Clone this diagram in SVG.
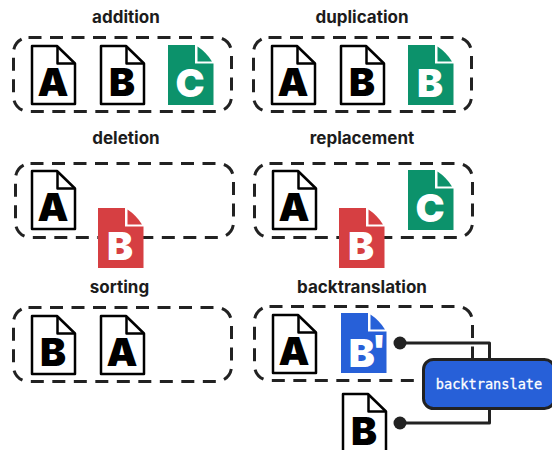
<svg xmlns="http://www.w3.org/2000/svg" width="552" height="450" viewBox="0 0 552 450">
<style>
.t{font:700 17px Inter,"Open Sans",sans-serif;fill:#1c1c1c;text-anchor:middle}
.l{font:900 39px Inter,"Liberation Sans",sans-serif;text-anchor:middle}
.k{fill:#000}.w{fill:#fff}
.box{fill:none;stroke:#222;stroke-width:3;stroke-dasharray:13 8.500}
.c{fill:none;stroke:#222;stroke-width:3;stroke-linejoin:round}
</style>
<defs>
<g id="doc"><path d="M1 1H26L44 18.500V59H1Z" fill="#fff" stroke="#000" stroke-width="2.500" stroke-linejoin="round"/><path d="M26.500 1V18.500H44" fill="none" stroke="#000" stroke-width="2.500" stroke-linejoin="round"/></g>
<g id="fdoc"><path d="M0 0H27V18.500H45.500V60H0Z"/><path d="M29.500 1.500Q38 7 44 16.500H29.500Z"/></g>
</defs>
<g id="titles">
<text class="t" x="126" y="23">addition</text>
<text class="t" x="362" y="23">duplication</text>
<text class="t" x="126" y="144">deletion</text>
<text class="t" x="362" y="144">replacement</text>
<text class="t" x="119.500" y="293">sorting</text>
<text class="t" x="362" y="293">backtranslation</text>
</g>
<g id="addition"><rect class="box" x="13.500" y="37.500" width="218" height="74" rx="15"/>
<use href="#doc" x="31" y="45"/><text class="l" x="53" y="96">A</text>
<use href="#doc" x="100" y="45"/><text class="l" x="122" y="96">B</text>
<use href="#fdoc" x="168" y="45" fill="#0c926b"/><text class="l w" x="190" y="97">C</text></g>
<g id="duplication"><rect class="box" x="253.500" y="37.500" width="218" height="74" rx="15"/>
<use href="#doc" x="271" y="45"/><text class="l" x="293" y="96">A</text>
<use href="#doc" x="340" y="45"/><text class="l" x="362" y="96">B</text>
<use href="#fdoc" x="408" y="45" fill="#0c926b"/><text class="l w" x="430" y="97">B</text></g>
<g id="deletion"><rect class="box" x="15.500" y="163.500" width="218" height="74" rx="15"/>
<use href="#doc" x="31" y="170"/><text class="l" x="53" y="221">A</text>
<use href="#fdoc" x="98" y="208" fill="#d63f42"/><text class="l w" x="120" y="260">B</text></g>
<g id="replacement"><rect class="box" x="254.500" y="163.500" width="218" height="74" rx="15"/>
<use href="#doc" x="272" y="170"/><text class="l" x="294" y="221">A</text>
<use href="#fdoc" x="339" y="208" fill="#d63f42"/><text class="l w" x="361" y="260">B</text>
<use href="#fdoc" x="408" y="170" fill="#0c926b"/><text class="l w" x="430" y="222">C</text></g>
<g id="sorting"><rect class="box" x="13.500" y="307.500" width="218" height="74" rx="15"/>
<use href="#doc" x="31" y="315"/><text class="l" x="53" y="366">B</text>
<use href="#doc" x="100" y="315"/><text class="l" x="122" y="366">A</text></g>
<g id="backtranslation"><rect class="box" x="254.500" y="306.500" width="218" height="74" rx="15"/>
<use href="#doc" x="272" y="314"/><text class="l" x="294" y="365">A</text>
<use href="#fdoc" x="341" y="313" fill="#2760d8"/><text class="l w" x="367.500" y="367">B<tspan dy="-4" dx="-3">'</tspan></text></g>
<g id="source-b"><use href="#doc" x="342" y="393"/><text class="l" x="364" y="445">B</text></g>
<g id="connectors">
<path class="c" d="M400 343H489.500V360"/>
<path class="c" d="M400 423H489.500V407"/>
<circle cx="400" cy="343" r="6.500" fill="#222"/>
<circle cx="400" cy="423" r="6.500" fill="#222"/>
</g>
<g id="backtranslate"><rect x="423.500" y="359.500" width="131" height="49" rx="10" fill="#2760d8" stroke="#222" stroke-width="3"/>
<text x="489" y="389" text-anchor="middle" style="font:400 13.600px 'DejaVu Sans Mono','Liberation Mono',monospace;stroke:#fff;stroke-width:.3" fill="#fff">backtranslate</text></g>
</svg>
